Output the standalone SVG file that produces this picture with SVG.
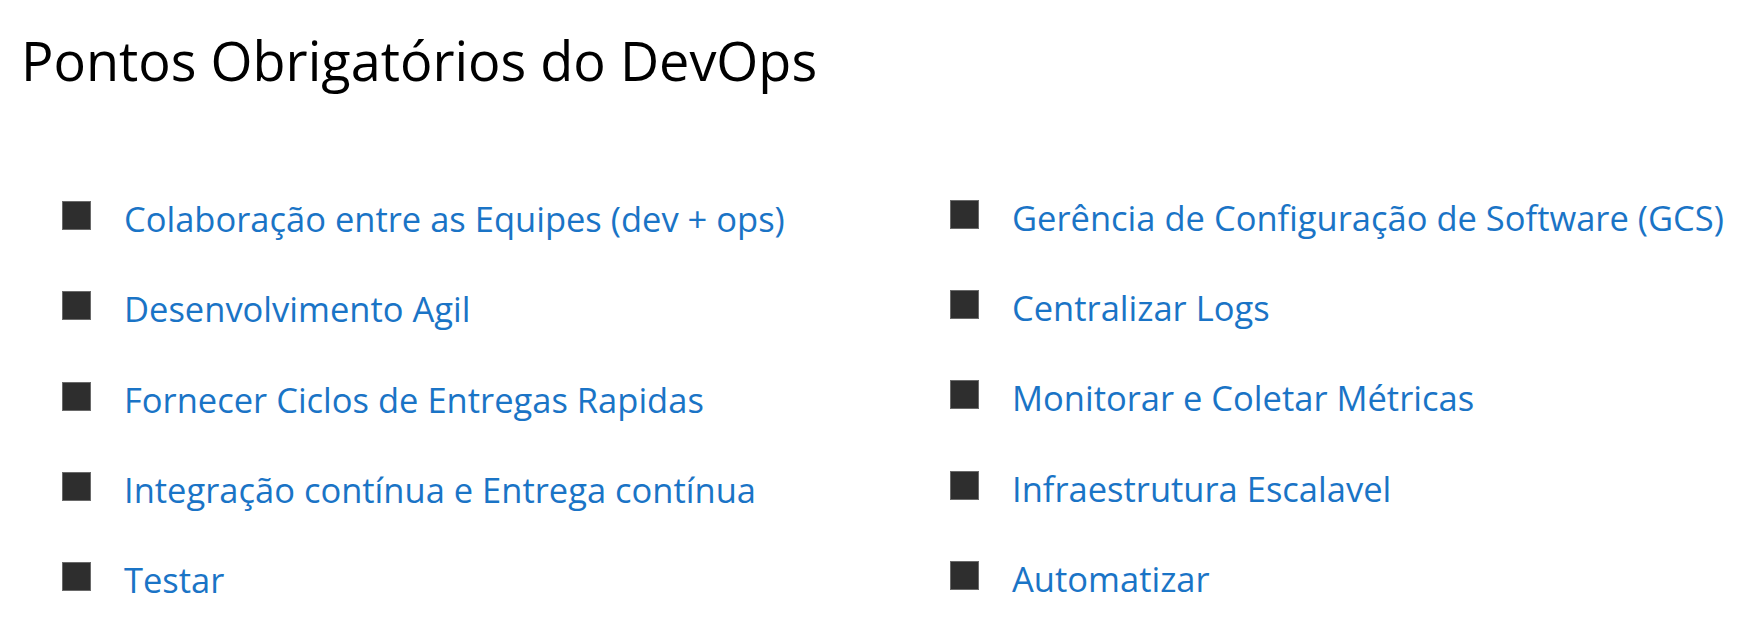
<svg xmlns="http://www.w3.org/2000/svg" width="1761" height="632" viewBox="0 0 1761 632">
<style>
.title{font-family:"Open Sans","Noto Sans","Liberation Sans",sans-serif;font-size:54px;fill:#000}
.item{font-family:"Open Sans","Noto Sans","Liberation Sans",sans-serif;font-size:34.5px;fill:#1a74c6}
.bullet{fill:#2e2e2e;stroke:#6a6a6a;stroke-width:1}
</style>
<rect width="1761" height="632" fill="#fff"/>
<g id="title"><text class="title" x="21" y="81">Pontos Obrigatórios do DevOps</text></g>
<g id="item-l1"><rect class="bullet" x="62.5" y="201.5" width="28" height="28"/><text class="item" x="124" y="232">Colaboração entre as Equipes (dev + ops)</text></g>
<g id="item-l2"><rect class="bullet" x="62.5" y="291.5" width="28" height="28"/><text class="item" x="124" y="322">Desenvolvimento Agil</text></g>
<g id="item-l3"><rect class="bullet" x="62.5" y="382.5" width="28" height="28"/><text class="item" x="124" y="413">Fornecer Ciclos de Entregas Rapidas</text></g>
<g id="item-l4"><rect class="bullet" x="62.5" y="472.5" width="28" height="28"/><text class="item" x="124" y="503">Integração contínua e Entrega contínua</text></g>
<g id="item-l5"><rect class="bullet" x="62.5" y="562.5" width="28" height="28"/><text class="item" x="124" y="593">Testar</text></g>
<g id="item-r1"><rect class="bullet" x="950.5" y="200.5" width="28" height="28"/><text class="item" x="1012" y="231">Gerência de Configuração de Software (GCS)</text></g>
<g id="item-r2"><rect class="bullet" x="950.5" y="290.5" width="28" height="28"/><text class="item" x="1012" y="321">Centralizar Logs</text></g>
<g id="item-r3"><rect class="bullet" x="950.5" y="380.5" width="28" height="28"/><text class="item" x="1012" y="411">Monitorar e Coletar Métricas</text></g>
<g id="item-r4"><rect class="bullet" x="950.5" y="471.5" width="28" height="28"/><text class="item" x="1012" y="502">Infraestrutura Escalavel</text></g>
<g id="item-r5"><rect class="bullet" x="950.5" y="561.5" width="28" height="28"/><text class="item" x="1012" y="592">Automatizar</text></g>
<g id="connectors"/>
</svg>
